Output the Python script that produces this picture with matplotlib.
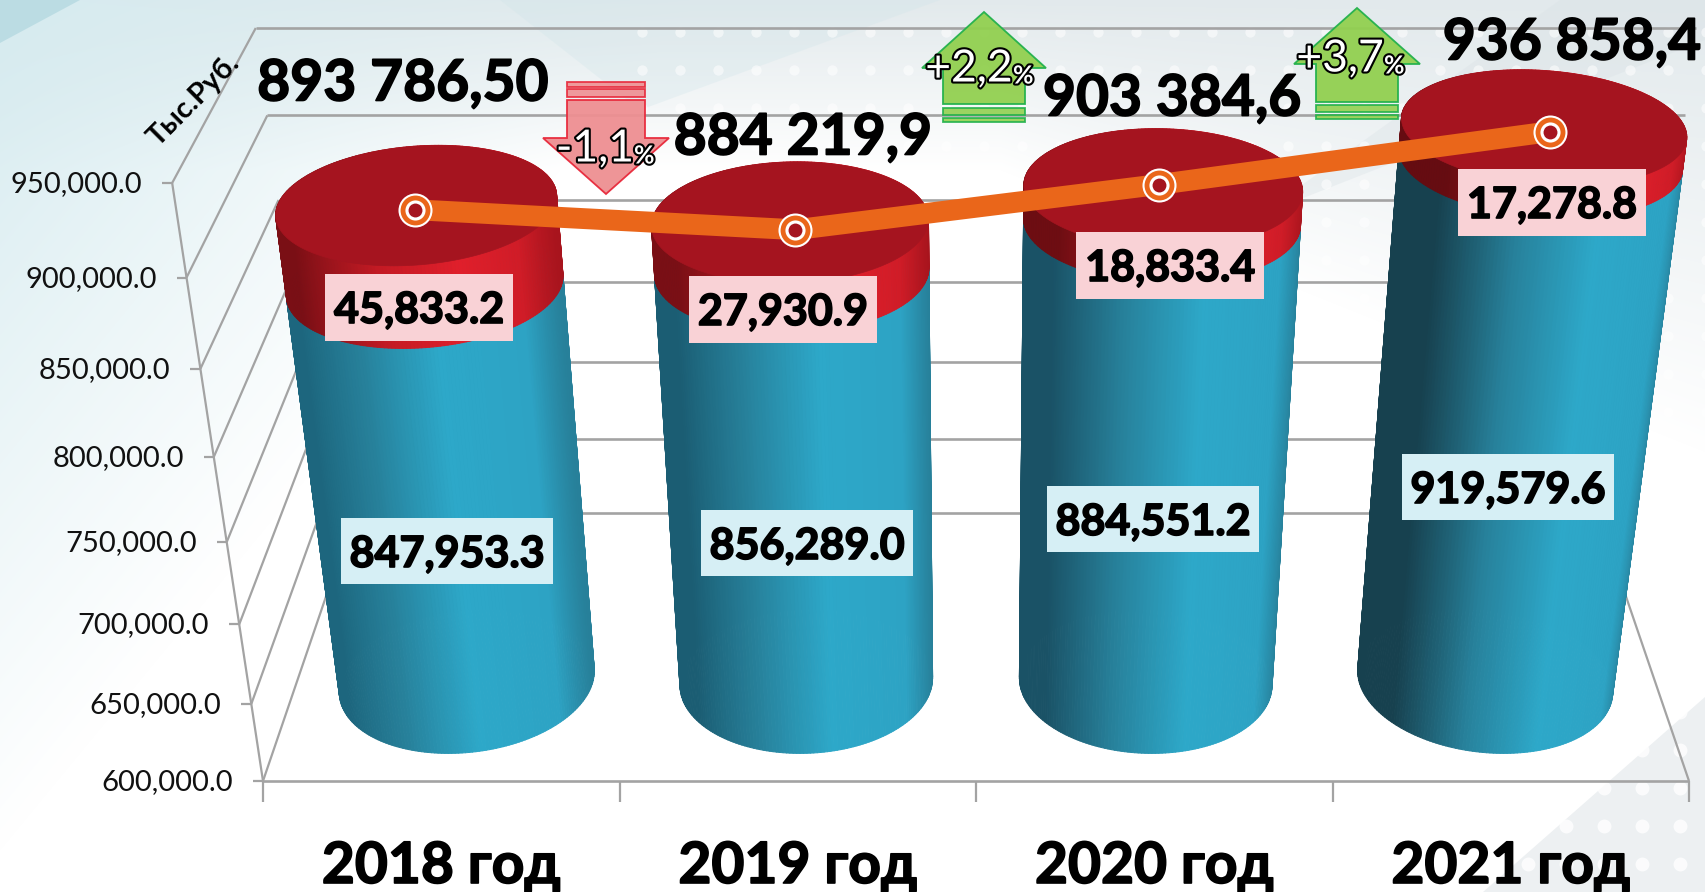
#!/usr/bin/python3

import numpy as np
import matplotlib
matplotlib.use("Agg")
import matplotlib.pyplot as plt
import matplotlib.patheffects as pe
from matplotlib.collections import PolyCollection
from matplotlib.colors import to_rgb
from matplotlib.patches import Polygon, Rectangle

# Chart data
years = ["2018 год", "2019 год", "2020 год", "2021 год"]
blue_values = [847953.3, 856289.0, 884551.2, 919579.6]
red_values = [45833.2, 27930.9, 18833.4, 17278.8]
total_values = [893786.5, 884219.9, 903384.6, 936858.4]
total_labels = ["893 786,50", "884 219,9", "903 384,6", "936 858,4"]
change_labels = ["-1,1", "+2,2", "+3,7"]
y_ticks = [600000, 650000, 700000, 750000, 800000, 850000, 900000, 950000]
unit_label = "Тыс.Руб."

FONT = ["Lato", "Open Sans", "DejaVu Sans"]
plt.rcParams["font.family"] = FONT

W, H = 1705, 892
fig = plt.figure(figsize=(W / 100, H / 100), dpi=100)
ax = fig.add_axes([0, 0, 1, 1])
ax.set_xlim(0, W)
ax.set_ylim(H, 0)
ax.axis("off")

HEAVY = [pe.withStroke(linewidth=1.2, foreground="black")]


# Camera of the 3D chart: x in categories from the middle, value, depth 0..1
def project(x, value, depth):
	x, value, depth = np.asarray(x, float), np.asarray(value, float), np.asarray(depth, float)
	y = (value - 600000) / 350000
	w = 1 - 0.113 * y + 0.103 * depth
	return 976 + 356.5 * x / w, (781 - 618.7 * y - 134.6 * depth) / w


def background():
	yy, xx = np.mgrid[0:H, 0:W]
	img = np.ones((H, W, 3))
	# teal wash from the upper left, grey from the top, reaching lower on the right
	left = np.clip(1 - (xx / 700 + yy / 850), 0, 1)
	reach = 170 + np.clip(xx - 1000, 0, None) * 0.4
	top = np.clip(1 - yy / reach, 0, 1)
	tint = np.array(to_rgb("#b5dbe3"))
	grey = np.array(to_rgb("#dfe7ea"))
	for c in range(3):
		img[:, :, c] = 1 - left * (1 - tint[c]) * 0.55
		img[:, :, c] -= top * (1 - left) * (1 - grey[c]) * 0.9
	ax.imshow(img, extent=(0, W, H, 0), aspect="auto", zorder=0)
	ax.set_xlim(0, W)
	ax.set_ylim(H, 0)
	ax.add_patch(Polygon([(0, 43), (80, 0), (0, 0)], fc="#a9d3dc", ec="none", alpha=0.6, zorder=0.1))
	ax.add_patch(Polygon([(500, 0), (940, 0), (640, 110)], fc="#cfe4e9", ec="none", alpha=0.3, zorder=0.1))
	ax.add_patch(Polygon([(1260, 215), (1560, 0), (1705, 0), (1705, 40)], fc="#d9e1e5", ec="none", alpha=0.35, zorder=0.1))
	ax.add_patch(Polygon([(W, 697), (W, H), (1483, H)], fc="#edf0f2", ec="none", zorder=0.1))
	# faint white dots, top right and bottom right
	gx, gy = np.meshgrid(np.arange(642, W + 20, 38), np.arange(32, 560, 38))
	ax.scatter(gx, gy, s=55, c="white", alpha=0.55, linewidths=0, zorder=0.2)
	gx, gy = np.meshgrid(np.arange(1262, W + 20, 38), np.arange(560, H + 20, 38))
	ax.scatter(gx, gy, s=100, c="white", alpha=0.8, linewidths=0, zorder=0.2)


def walls():
	grid = dict(color="#a3a3a3", lw=1.9, solid_capstyle="butt", zorder=1)
	thin = dict(color="#a3a3a3", lw=1.6, solid_capstyle="butt", zorder=1)
	for v in y_ticks:
		fx, fy = project(-2, v, 0)
		bx, by = project(-2, v, 1)
		rx, ry = project(2, v, 1)
		ax.plot([fx, bx], [fy, by], **thin)
		if v > 600000:
			ax.plot([bx, rx], [by, ry], **grid)
		ax.plot([fx - 10, fx], [fy, fy], **thin)
		ax.text(fx - 30, fy + 1, f"{v:,.1f}", ha="right", va="center", fontsize=21, color="#111111", zorder=6)
	ax.plot(*project([-2, -2], [600000, 950000], [0, 0]), **thin)
	ax.plot(*project([-2, 2], [600000, 600000], [0, 0]), **grid)
	ax.plot(*project([2, 2], [600000, 600000], [0, 1]), **thin)
	for x in [-2, -1, 0, 1, 2]:
		px, py = project(x, 600000, 0)
		ax.plot([px, px], [py, py + 21], **thin)


def ramp(t, stops, colors):
	rgb = np.array([to_rgb(c) for c in colors])
	return np.column_stack([np.interp(t, stops, rgb[:, k]) for k in range(3)])


def side(xc, v0, v1, stops, colors, zorder):
	theta = np.linspace(0, 2 * np.pi, 241)
	x = xc + RX * np.cos(theta)
	z = ZC - RZ * np.sin(theta)
	bx, by = project(x, v0, z)
	tx, ty = project(x, v1, z)
	quads, shades = [], []
	t = (1 + np.cos(theta)) / 2
	col = ramp((t[:-1] + t[1:]) / 2, stops, colors)
	order = np.argsort(-(z[:-1] + z[1:]))
	for k in order:
		quads.append([(bx[k], by[k]), (bx[k + 1], by[k + 1]), (tx[k + 1], ty[k + 1]), (tx[k], ty[k])])
		shades.append(col[k])
	ax.add_collection(PolyCollection(quads, facecolors=shades, edgecolors=shades, linewidths=0.7, zorder=zorder))


def cap(xc, v, color, zorder):
	theta = np.linspace(0, 2 * np.pi, 241)
	px, py = project(xc + RX * np.cos(theta), v, ZC - RZ * np.sin(theta))
	ax.fill(px, py, color=color, lw=0.5, zorder=zorder)


def arrow(cx, tip_y, base_y, shaft_y, half_head, half_shaft, stripes, fill, edge):
	pts = [(cx, tip_y), (cx + half_head, base_y), (cx + half_shaft, base_y), (cx + half_shaft, shaft_y),
		(cx - half_shaft, shaft_y), (cx - half_shaft, base_y), (cx - half_head, base_y)]
	ax.add_patch(Polygon(pts, fc=fill, ec=edge, lw=1.3, alpha=0.95, zorder=3))
	for y0, y1 in stripes:
		ax.add_patch(Rectangle((cx - half_shaft, y0), 2 * half_shaft, y1 - y0, fc=fill, ec=edge, lw=1.3, alpha=0.9, zorder=3))


def change_text(cx, cy, label):
	stroke = [pe.withStroke(linewidth=3, foreground="black")]
	ax.text(cx + 32, cy, label, ha="right", va="center", fontsize=32, color="white", zorder=8, path_effects=stroke)
	ax.text(cx + 32, cy + 7, "%", ha="left", va="center", fontsize=18, color="white", fontweight="bold", zorder=8, path_effects=stroke)


background()
walls()

# Cylinders
RX, RZ, ZC = 0.372, 0.37, 0.5
left_dark = ["#1d667e", "#1b5d73", "#1a5266", "#17414f"]
red_dark = ["#7a0f15", "#7a0f15", "#6e0d12", "#660c11"]
centers = [i - 1.5 for i in range(len(years))]
for i, xc in enumerate(centers):
	z = 2 + i * 0.01
	side(xc, 600000, blue_values[i], [0, 0.1, 0.35, 0.62, 0.9, 1],
		[left_dark[i], left_dark[i], "#27819b", "#2da8c9", "#2da3c4", "#27809a"], z)
	side(xc, blue_values[i], total_values[i], [0, 0.12, 0.45, 0.72, 0.9, 1],
		[red_dark[i], red_dark[i], "#c41a24", "#e01f2b", "#d01c27", "#a8141d"], z + 0.001)
	cap(xc, total_values[i], "#a5141f", z + 0.002)

# Change arrows
arrow(606, 194, 138, 100, 63, 39, [(89, 97), (82, 87)], "#ee8f92", "#e8283a")
arrow(984, 12, 68, 104, 62, 41, [(108, 115), (118, 122)], "#92d050", "#22b14c")
arrow(1357, 8, 64, 102, 63, 41, [(105, 112), (115, 119)], "#92d050", "#22b14c")
change_text(602, 149, change_labels[0])
change_text(981, 69, change_labels[1])
change_text(1352, 59, change_labels[2])

# Totals line, with the small shifts the markers have in the picture
marker_shift = [(0, 0), (6, 3), (-5, -8), (4, 0)]
line_x, line_y = project(centers, total_values, 0.46)
line_x = line_x + np.array([s[0] for s in marker_shift])
line_y = line_y + np.array([s[1] for s in marker_shift])
ax.plot(line_x, line_y, color="#ea661a", lw=15, solid_capstyle="butt", zorder=4)
for size, color in zip([24.5, 21.5, 14.5, 10], ["white", "#ea661a", "white", "#a5141f"]):
	ax.plot(line_x, line_y, ls="none", marker="o", ms=size, mfc=color, mec="none", zorder=5)

# Value labels
blue_boxes = [(447, 551), (807, 543), (1153, 519), (1508, 487)]
red_boxes = [(419, 307), (783, 309), (1170, 265), (1552, 202)]
for i in range(len(years)):
	cx, cy = blue_boxes[i]
	ax.add_patch(Rectangle((cx - 106, cy - 33), 212, 66, fc="#d6eff5", ec="none", zorder=6))
	ax.text(cx, cy + 3, f"{blue_values[i]:,.1f}", ha="center", va="center", fontsize=31, fontweight="bold", color="black", zorder=7, path_effects=HEAVY)
	cx, cy = red_boxes[i]
	ax.add_patch(Rectangle((cx - 94, cy - 33.5), 188, 67, fc="#f9d2d6", ec="none", zorder=6))
	ax.text(cx, cy + 3, f"{red_values[i]:,.1f}", ha="center", va="center", fontsize=31, fontweight="bold", color="black", zorder=7, path_effects=HEAVY)

# Totals
total_pos = [(403, 84), (803, 138), (1172, 99), (1572, 43)]
for label, (cx, cy) in zip(total_labels, total_pos):
	ax.text(cx, cy, label, ha="center", va="center", fontsize=41, fontweight="bold", color="black", zorder=8, path_effects=HEAVY)

# Category labels
for i, year in enumerate(years):
	px, _ = project(centers[i], 600000, 0)
	ax.text(px, 883, year, ha="center", va="baseline", fontsize=41, fontweight="bold", color="black", zorder=6, path_effects=HEAVY)

ax.text(194, 100, unit_label, ha="center", va="center", rotation=45, rotation_mode="anchor", fontsize=21, fontweight="bold", color="black", zorder=6)

fig.savefig("out.png", dpi=100)
